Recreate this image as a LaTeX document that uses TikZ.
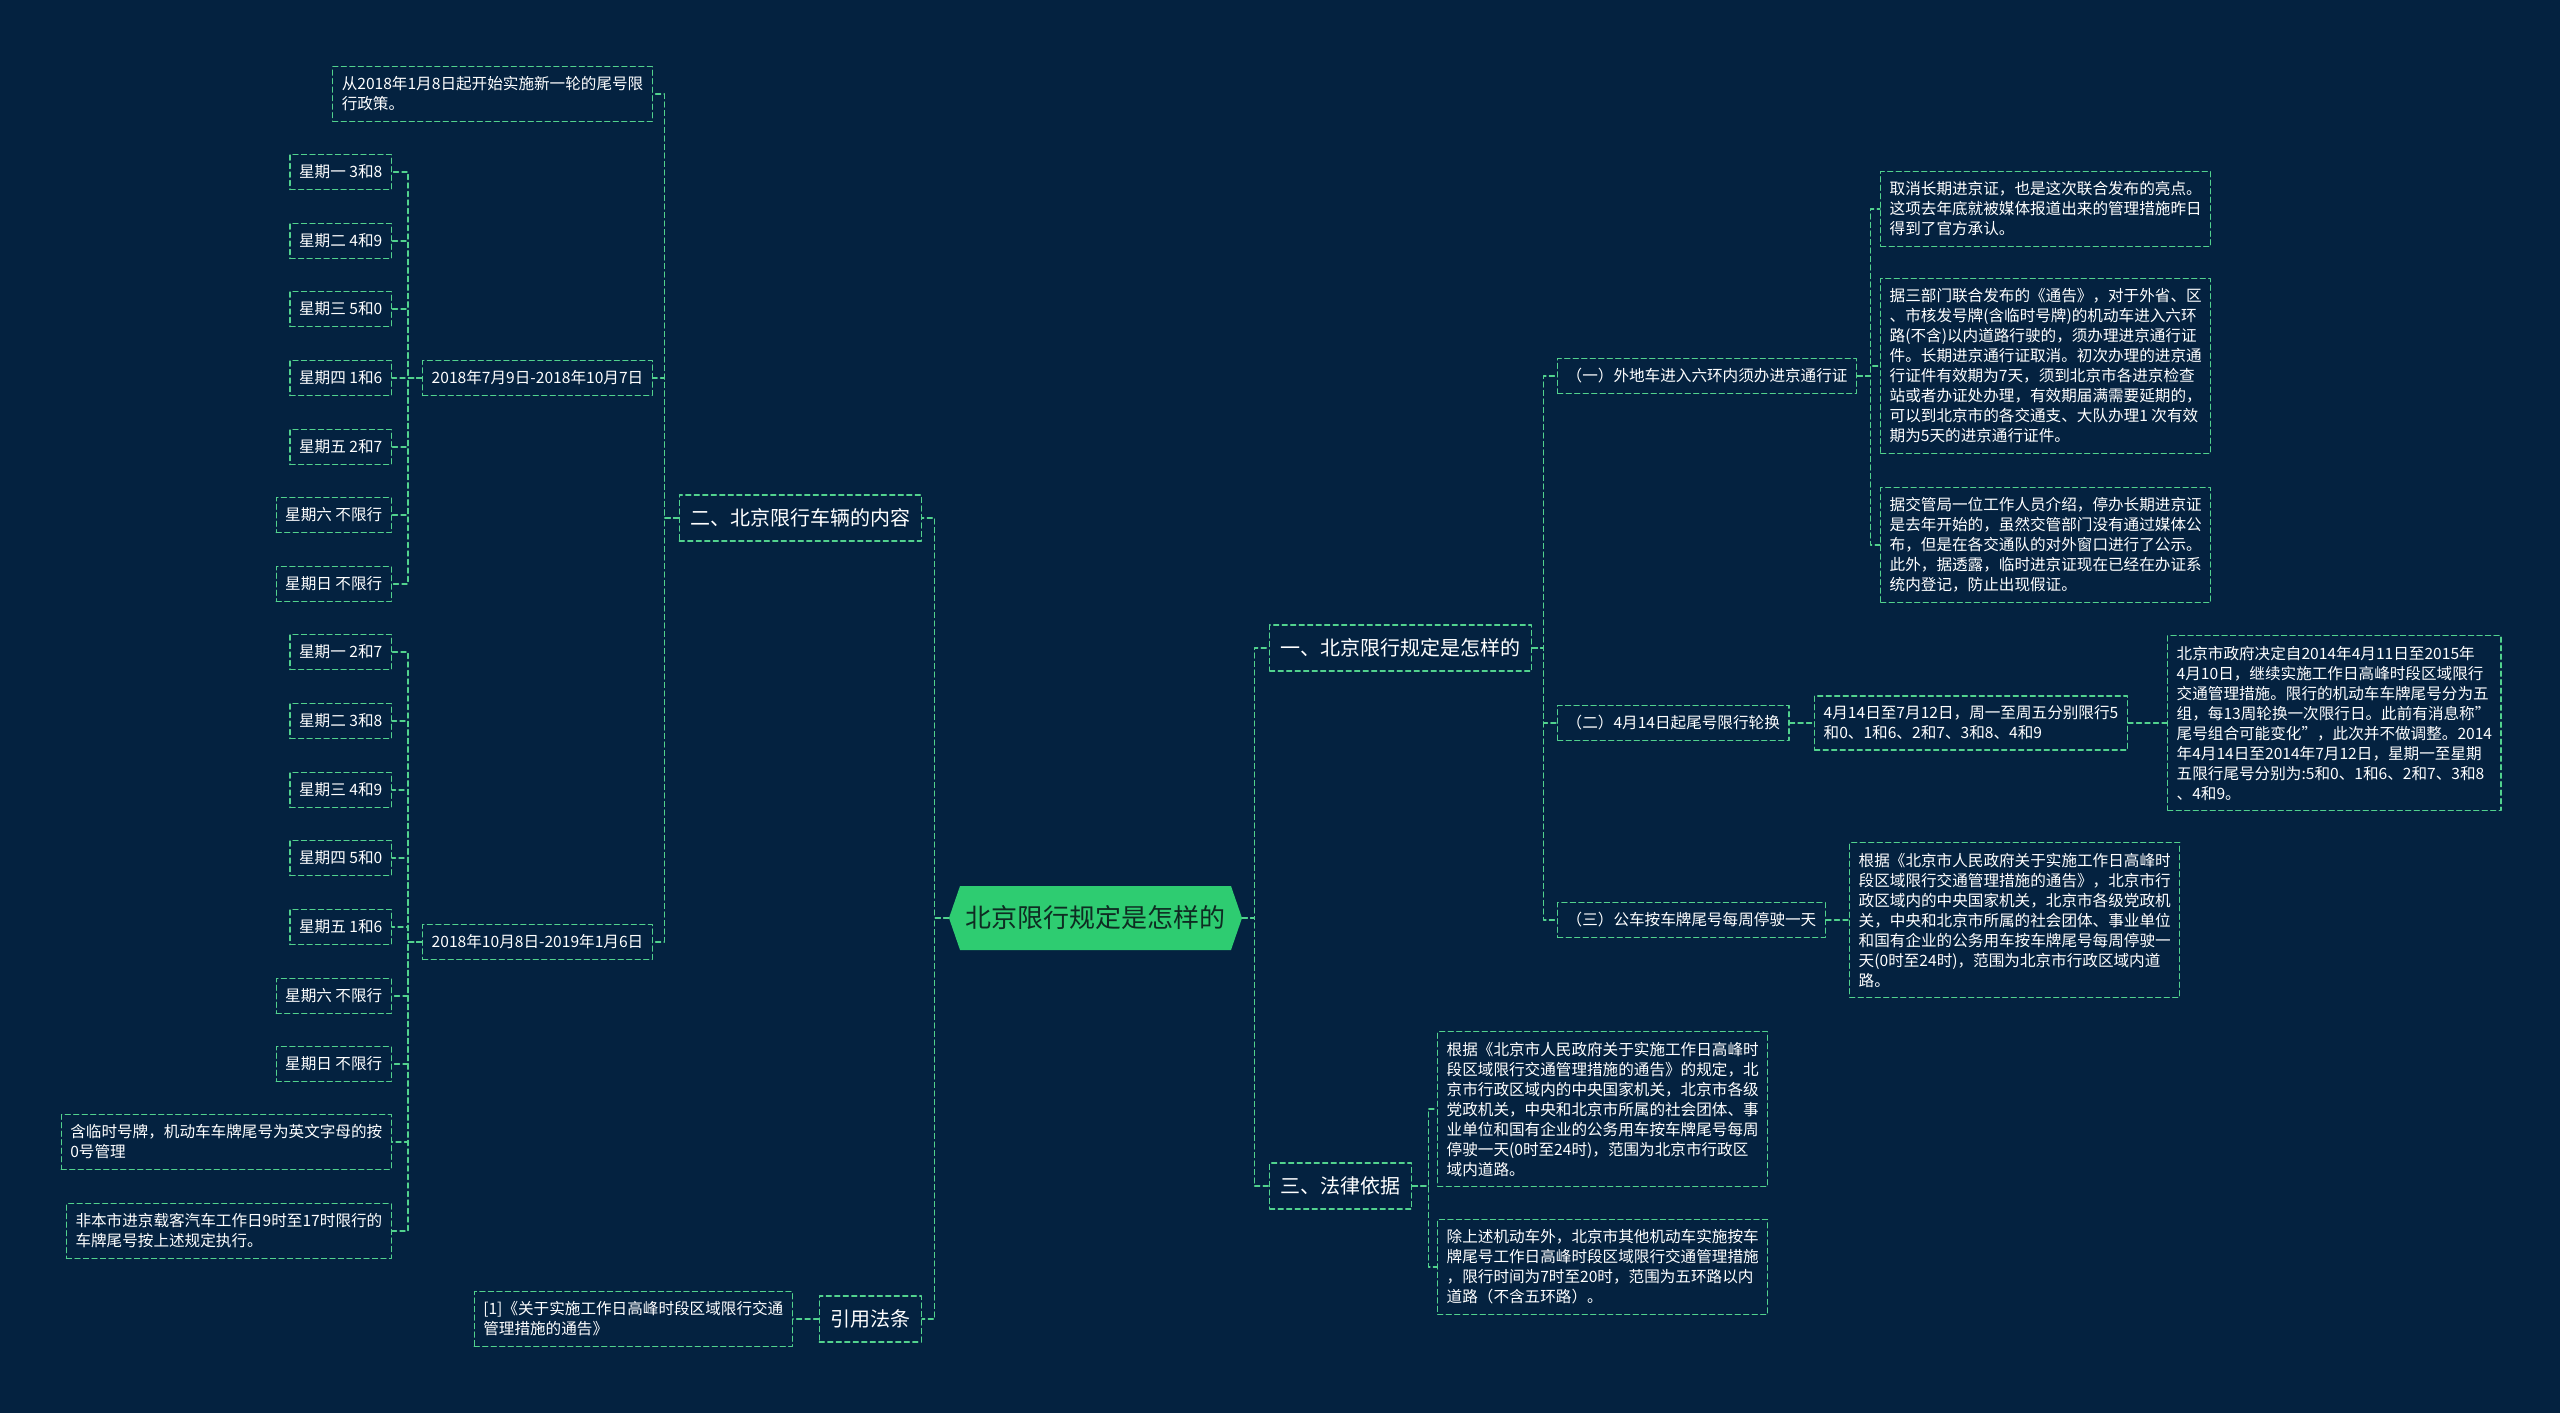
\documentclass[tikz,border=0pt]{standalone}
\usepackage{fontspec}
\setmainfont{Noto Sans CJK SC}
\usetikzlibrary{shapes.symbols}
\definecolor{bgnavy}{RGB}{4,34,64}
\definecolor{lnk}{RGB}{82,210,142}
\definecolor{rootfill}{RGB}{46,204,113}
\definecolor{roottext}{RGB}{14,44,34}
\begin{document}
\begin{tikzpicture}[x=1pt,y=-1pt,
  line cap=round,line join=round,
  every node/.style={text=white},
  dsh/.style={draw=lnk,dash pattern=on 5pt off 3.5pt,line width=1.4pt},
  link/.style={dsh},
  box/.style={dsh,font=\fontsize{15.6}{20}\selectfont,inner xsep=9pt,inner ysep=10pt,align=left,minimum height=35pt},
  br/.style={dsh,font=\fontsize{20}{24}\selectfont,inner xsep=11pt,minimum height=46pt},
  rt/.style={signal,signal to=west and east,signal pointer angle=142,fill=rootfill,text=roottext,
    font=\fontsize{26}{30}\selectfont,minimum height=64pt,minimum width=293pt,inner xsep=4pt}]

  \fill[bgnavy] (0,0) rectangle (2560,1413);

  %% ---- root
  \node[rt] (root) at (1095.5,918) {北京限行规定是怎样的};

  %% ---- left half
  \node[br,anchor=east] (b2) at (922,518) {二、北京限行车辆的内容};
  \node[br,anchor=east] (cite) at (922,1319) {引用法条};
  \node[box,anchor=east] (ref) at (793,1319) {[1]《关于实施工作日高峰时段区域限行交通\\管理措施的通告》};

  \node[box,anchor=east] (pol) at (653,94) {从2018年1月8日起开始实施新一轮的尾号限\\行政策。};
  \node[box,anchor=east] (d1) at (653,378) {2018年7月9日-2018年10月7日};
  \node[box,anchor=east] (d2) at (653,942) {2018年10月8日-2019年1月6日};

  % first period
  \node[box,anchor=east] (p1) at (392,172) {星期一 3和8};
  \node[box,anchor=east] (p2) at (392,241) {星期二 4和9};
  \node[box,anchor=east] (p3) at (392,309) {星期三 5和0};
  \node[box,anchor=east] (p4) at (392,378) {星期四 1和6};
  \node[box,anchor=east] (p5) at (392,447) {星期五 2和7};
  \node[box,anchor=east] (p6) at (392,515) {星期六 不限行};
  \node[box,anchor=east] (p7) at (392,584) {星期日 不限行};

  % second period
  \node[box,anchor=east] (q1) at (392,652) {星期一 2和7};
  \node[box,anchor=east] (q2) at (392,721) {星期二 3和8};
  \node[box,anchor=east] (q3) at (392,790) {星期三 4和9};
  \node[box,anchor=east] (q4) at (392,858) {星期四 5和0};
  \node[box,anchor=east] (q5) at (392,927) {星期五 1和6};
  \node[box,anchor=east] (q6) at (392,996) {星期六 不限行};
  \node[box,anchor=east] (q7) at (392,1064) {星期日 不限行};
  \node[box,anchor=east] (q8) at (392,1142) {含临时号牌，机动车车牌尾号为英文字母的按\\0号管理};
  \node[box,anchor=east] (q9) at (392,1231) {非本市进京载客汽车工作日9时至17时限行的\\车牌尾号按上述规定执行。};

  %% ---- right half
  \node[br,anchor=west] (b1) at (1269,648) {一、北京限行规定是怎样的};
  \node[br,anchor=west] (b3) at (1269,1186) {三、法律依据};

  \node[box,anchor=west] (s1) at (1557,376) {（一）外地车进入六环内须办进京通行证};
  \node[box,anchor=west] (s2) at (1557,723) {（二）4月14日起尾号限行轮换};
  \node[box,anchor=west] (s3) at (1557,920) {（三）公车按车牌尾号每周停驶一天};

  \node[box,anchor=west] (s1a) at (1880,209) {取消长期进京证，也是这次联合发布的亮点。\\这项去年底就被媒体报道出来的管理措施昨日\\得到了官方承认。};
  \node[box,anchor=west] (s1b) at (1880,366) {据三部门联合发布的《通告》，对于外省、区\\、市核发号牌(含临时号牌)的机动车进入六环\\路(不含)以内道路行驶的，须办理进京通行证\\件。长期进京通行证取消。初次办理的进京通\\行证件有效期为7天，须到北京市各进京检查\\站或者办证处办理，有效期届满需要延期的，\\可以到北京市的各交通支、大队办理1 次有效\\期为5天的进京通行证件。};
  \node[box,anchor=west] (s1c) at (1880,545) {据交管局一位工作人员介绍，停办长期进京证\\是去年开始的，虽然交管部门没有通过媒体公\\布，但是在各交通队的对外窗口进行了公示。\\此外，据透露，临时进京证现在已经在办证系\\统内登记，防止出现假证。};

  \node[box,anchor=west] (s2a) at (1814,723) {4月14日至7月12日，周一至周五分别限行5\\和0、1和6、2和7、3和8、4和9};
  \node[box,anchor=west] (s2b) at (2167,723) {北京市政府决定自2014年4月11日至2015年\\4月10日，继续实施工作日高峰时段区域限行\\交通管理措施。限行的机动车车牌尾号分为五\\组，每13周轮换一次限行日。此前有消息称"\\尾号组合可能变化"，此次并不做调整。2014\\年4月14日至2014年7月12日，星期一至星期\\五限行尾号分别为:5和0、1和6、2和7、3和8\\、4和9。};

  \node[box,anchor=west] (s3a) at (1849,920) {根据《北京市人民政府关于实施工作日高峰时\\段区域限行交通管理措施的通告》，北京市行\\政区域内的中央国家机关，北京市各级党政机\\关，中央和北京市所属的社会团体、事业单位\\和国有企业的公务用车按车牌尾号每周停驶一\\天(0时至24时)，范围为北京市行政区域内道\\路。};

  \node[box,anchor=west] (l1) at (1437,1109) {根据《北京市人民政府关于实施工作日高峰时\\段区域限行交通管理措施的通告》的规定，北\\京市行政区域内的中央国家机关，北京市各级\\党政机关，中央和北京市所属的社会团体、事\\业单位和国有企业的公务用车按车牌尾号每周\\停驶一天(0时至24时)，范围为北京市行政区\\域内道路。};
  \node[box,anchor=west] (l2) at (1437,1267) {除上述机动车外，北京市其他机动车实施按车\\牌尾号工作日高峰时段区域限行交通管理措施\\，限行时间为7时至20时，范围为五环路以内\\道路（不含五环路）。};

  %% ---- connectors
  % root
  \draw[link] (root.west) -- ++(-14,0) |- (b2.east);
  \draw[link] (root.west) -- ++(-14,0) |- (cite.east);
  \draw[link] (root.east) -- ++(12,0) |- (b1.west);
  \draw[link] (root.east) -- ++(12,0) |- (b3.west);
  % left
  \draw[link] (cite.west) -- (ref.east);
  \draw[link] (b2.west) -- ++(-14,0) |- (pol.east);
  \draw[link] (b2.west) -- ++(-14,0) |- (d1.east);
  \draw[link] (b2.west) -- ++(-14,0) |- (d2.east);
  \draw[link] (d1.west) -- ++(-14,0) |- (p1.east);
  \draw[link] (d1.west) -- ++(-14,0) |- (p2.east);
  \draw[link] (d1.west) -- ++(-14,0) |- (p3.east);
  \draw[link] (d1.west) -- (p4.east);
  \draw[link] (d1.west) -- ++(-14,0) |- (p5.east);
  \draw[link] (d1.west) -- ++(-14,0) |- (p6.east);
  \draw[link] (d1.west) -- ++(-14,0) |- (p7.east);
  \draw[link] (d2.west) -- ++(-14,0) |- (q1.east);
  \draw[link] (d2.west) -- ++(-14,0) |- (q2.east);
  \draw[link] (d2.west) -- ++(-14,0) |- (q3.east);
  \draw[link] (d2.west) -- ++(-14,0) |- (q4.east);
  \draw[link] (d2.west) -- ++(-14,0) |- (q5.east);
  \draw[link] (d2.west) -- ++(-14,0) |- (q6.east);
  \draw[link] (d2.west) -- ++(-14,0) |- (q7.east);
  \draw[link] (d2.west) -- ++(-14,0) |- (q8.east);
  \draw[link] (d2.west) -- ++(-14,0) |- (q9.east);
  % right
  \draw[link] (b1.east) -- ++(11,0) |- (s1.west);
  \draw[link] (b1.east) -- ++(11,0) |- (s2.west);
  \draw[link] (b1.east) -- ++(11,0) |- (s3.west);
  \draw[link] (s1.east) -- ++(13,0) |- (s1a.west);
  \draw[link] (s1.east) -- ++(13,0) |- (s1b.west);
  \draw[link] (s1.east) -- ++(13,0) |- (s1c.west);
  \draw[link] (s2.east) -- (s2a.west);
  \draw[link] (s2a.east) -- (s2b.west);
  \draw[link] (s3.east) -- (s3a.west);
  \draw[link] (b3.east) -- ++(16,0) |- (l1.west);
  \draw[link] (b3.east) -- ++(16,0) |- (l2.west);
\end{tikzpicture}
\end{document}
